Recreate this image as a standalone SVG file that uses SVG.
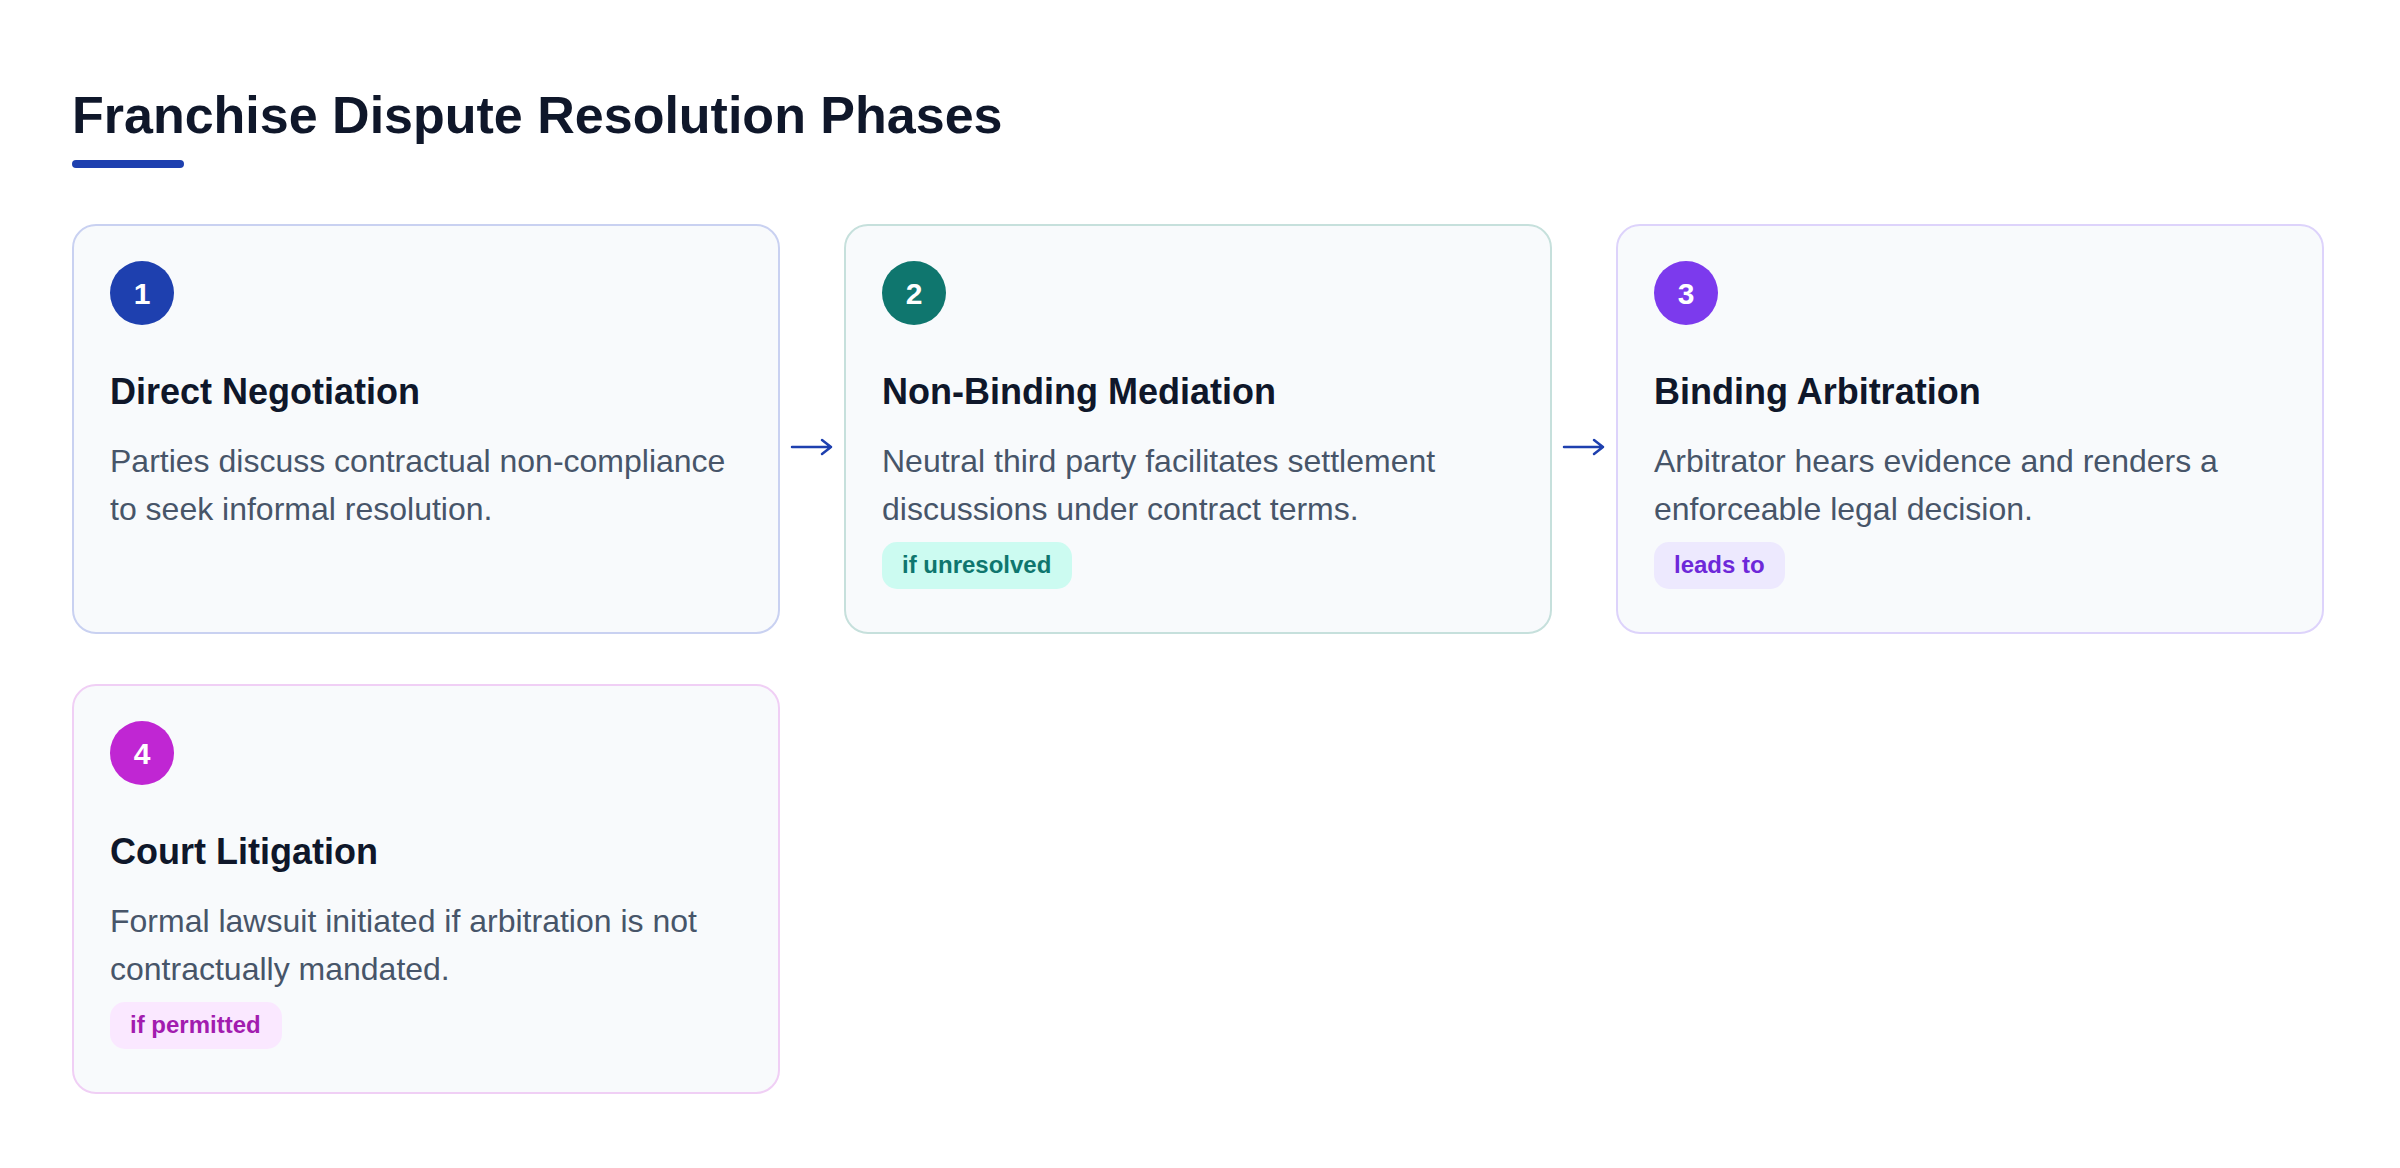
<svg xmlns="http://www.w3.org/2000/svg" width="2400" height="1168" viewBox="0 0 2400 1168">
<style>
.card{fill:#f8fafc;stroke-width:2}
.num{font-family:"Liberation Sans",Arial,sans-serif;font-weight:700;font-size:30px;fill:#ffffff;text-anchor:middle}
.ttl{font-family:"Liberation Sans",Arial,sans-serif;font-weight:700;font-size:36px;fill:#0f172a}
.desc{font-family:"Liberation Sans",Arial,sans-serif;font-size:32px;fill:#475569}
.badge{font-family:"Liberation Sans",Arial,sans-serif;font-weight:700;font-size:24px}
.arrow{fill:none;stroke:#1e40af;stroke-width:2.5;stroke-linecap:round;stroke-linejoin:round}
</style>
<rect width="2400" height="1168" fill="#ffffff"/>
<g id="header">
<text x="72" y="133" font-family="'Liberation Sans',Arial,sans-serif" font-weight="700" font-size="52" fill="#0f172a">Franchise Dispute Resolution Phases</text>
<rect x="72" y="160" width="112" height="8" rx="4" fill="#1e40af"/>
</g>
<g id="connectors">
<path class="arrow" d="M792 447 H831 M822 440 L831 447 L822 454"/>
<path class="arrow" d="M1564 447 H1603 M1594 440 L1603 447 L1594 454"/>
</g>
<g id="node-1">
<rect class="card" x="73" y="225" width="706" height="408" rx="23" stroke="#c9d1f1"/>
<circle cx="142" cy="293" r="32" fill="#1e40af"/>
<text class="num" x="142" y="304">1</text>
<text class="ttl" x="110" y="404">Direct Negotiation</text>
<text class="desc" x="110" y="472">Parties discuss contractual non-compliance</text>
<text class="desc" x="110" y="520">to seek informal resolution.</text>
</g>
<g id="node-2">
<rect class="card" x="845" y="225" width="706" height="408" rx="23" stroke="#c6e0dc"/>
<circle cx="914" cy="293" r="32" fill="#0f766e"/>
<text class="num" x="914" y="304">2</text>
<text class="ttl" x="882" y="404">Non-Binding Mediation</text>
<text class="desc" x="882" y="472">Neutral third party facilitates settlement</text>
<text class="desc" x="882" y="520">discussions under contract terms.</text>
<rect x="882" y="542" width="190" height="47" rx="15" fill="#ccfbf1"/>
<text class="badge" x="902" y="573" fill="#0f766e">if unresolved</text>
</g>
<g id="node-3">
<rect class="card" x="1617" y="225" width="706" height="408" rx="23" stroke="#ddd3fb"/>
<circle cx="1686" cy="293" r="32" fill="#7c3aed"/>
<text class="num" x="1686" y="304">3</text>
<text class="ttl" x="1654" y="404">Binding Arbitration</text>
<text class="desc" x="1654" y="472">Arbitrator hears evidence and renders a</text>
<text class="desc" x="1654" y="520">enforceable legal decision.</text>
<rect x="1654" y="542" width="131" height="47" rx="15" fill="#ede9fe"/>
<text class="badge" x="1674" y="573" fill="#6d28d9">leads to</text>
</g>
<g id="node-4">
<rect class="card" x="73" y="685" width="706" height="408" rx="23" stroke="#f0cff5"/>
<circle cx="142" cy="753" r="32" fill="#c026d3"/>
<text class="num" x="142" y="764">4</text>
<text class="ttl" x="110" y="864">Court Litigation</text>
<text class="desc" x="110" y="932">Formal lawsuit initiated if arbitration is not</text>
<text class="desc" x="110" y="980">contractually mandated.</text>
<rect x="110" y="1002" width="172" height="47" rx="15" fill="#fae8ff"/>
<text class="badge" x="130" y="1033" fill="#a21caf">if permitted</text>
</g>
</svg>
